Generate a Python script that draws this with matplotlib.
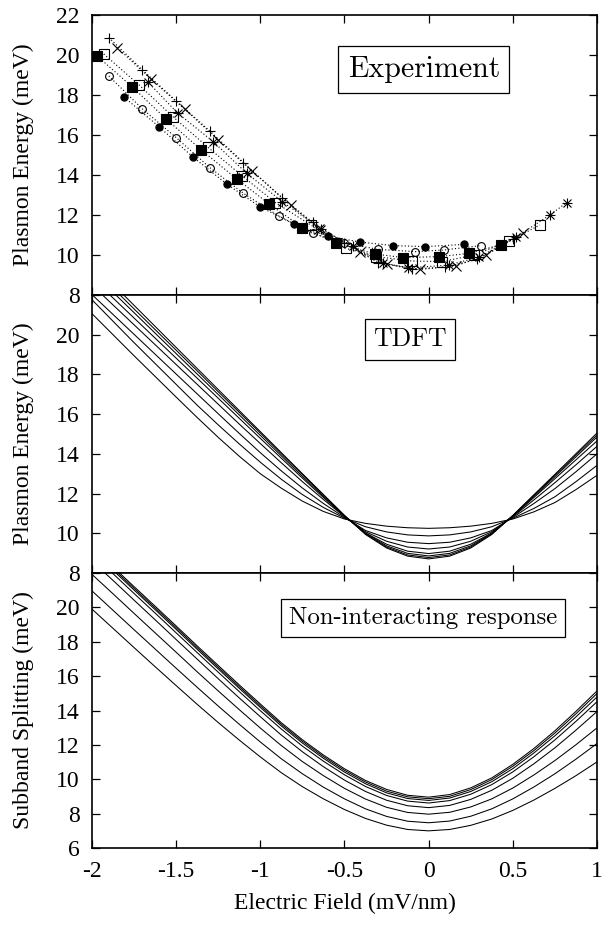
import matplotlib
matplotlib.use('Agg')
import matplotlib.pyplot as plt
from matplotlib.ticker import FixedLocator, FixedFormatter

# ---------------- data ----------------
# Experiment (top panel): seven measurement series (x = field, y = energy)
plus_x = [-1.90, -1.70, -1.50, -1.30, -1.10, -0.87, -0.69, -0.50, -0.30, -0.10, 0.10, 0.29, 0.50]
plus_y = [20.87, 19.25, 17.70, 16.20, 14.62, 12.84, 11.65, 10.60, 9.62, 9.30, 9.40, 9.78, 10.80]

cross_x = [-1.85, -1.65, -1.45, -1.25, -1.05, -0.82, -0.65, -0.41, -0.25, -0.05, 0.16, 0.34, 0.56]
cross_y = [20.37, 18.80, 17.30, 15.75, 14.20, 12.50, 11.28, 10.13, 9.55, 9.28, 9.45, 10.00, 11.08]

star_x = [-1.67, -1.49, -1.28, -1.08, -0.87, -0.64, -0.45, -0.27, -0.12, 0.12, 0.30, 0.52, 0.72, 0.82]
star_y = [18.67, 17.08, 15.67, 14.08, 12.67, 11.30, 10.45, 9.60, 9.35, 9.50, 9.90, 10.90, 12.00, 12.62]

osq_x = [-1.93, -1.72, -1.52, -1.31, -1.11, -0.91, -0.70, -0.49, -0.31, -0.10, 0.08, 0.27, 0.48, 0.66]
osq_y = [20.05, 18.50, 16.92, 15.38, 13.97, 12.62, 11.50, 10.33, 9.92, 9.70, 9.67, 10.00, 10.70, 11.50]

fsq_x = [-1.97, -1.76, -1.56, -1.35, -1.14, -0.95, -0.75, -0.55, -0.32, -0.15, 0.06, 0.24, 0.43]
fsq_y = [19.95, 18.40, 16.80, 15.25, 13.80, 12.57, 11.37, 10.60, 10.05, 9.87, 9.92, 10.08, 10.52]

ocir_x = [-1.90, -1.70, -1.50, -1.30, -1.10, -0.89, -0.69, -0.50, -0.30, -0.08, 0.09, 0.31]
ocir_y = [18.95, 17.30, 15.87, 14.37, 13.08, 11.95, 11.08, 10.60, 10.28, 10.17, 10.25, 10.47]

fcir_x = [-1.81, -1.60, -1.40, -1.20, -1.00, -0.80, -0.60, -0.41, -0.21, -0.02, 0.21]
fcir_y = [17.90, 16.40, 14.90, 13.55, 12.40, 11.55, 10.95, 10.65, 10.47, 10.42, 10.53]

# common field grid for the theory curves
field = [-2.0, -1.875, -1.75, -1.625, -1.5, -1.375, -1.25, -1.125, -1.0, -0.875, -0.75,
         -0.625, -0.5, -0.375, -0.25, -0.125, 0.0, 0.125, 0.25, 0.375, 0.5, 0.625, 0.75,
         0.875, 1.0]

# TDFT (middle panel)
tdft_1 = [21.06, 20.00, 18.94, 17.90, 16.86, 15.83, 14.83, 13.88, 13.00, 12.27, 11.62, 11.10, 10.72,
          10.50, 10.36, 10.28, 10.25, 10.28, 10.36, 10.50, 10.72, 11.08, 11.55, 12.20, 12.92]
tdft_2 = [21.76, 20.68, 19.60, 18.55, 17.50, 16.45, 15.46, 14.50, 13.58, 12.72, 11.95, 11.30, 10.76,
          10.33, 10.07, 9.92, 9.87, 9.92, 10.07, 10.33, 10.76, 11.25, 11.84, 12.60, 13.42]
tdft_3 = [22.02, 21.02, 20.02, 19.02, 18.02, 17.02, 16.02, 15.03, 14.06, 13.14, 12.28, 11.50, 10.80,
          10.14, 9.77, 9.55, 9.48, 9.55, 9.77, 10.14, 10.80, 11.50, 12.25, 13.10, 14.00]
tdft_4 = [22.50, 21.50, 20.50, 19.50, 18.50, 17.50, 16.50, 15.50, 14.52, 13.55, 12.60, 11.70, 10.84,
          10.08, 9.60, 9.31, 9.21, 9.31, 9.60, 10.08, 10.84, 11.68, 12.55, 13.45, 14.38]
tdft_5 = [22.86, 21.85, 20.84, 19.83, 18.82, 17.81, 16.80, 15.79, 14.78, 13.78, 12.78, 11.80, 10.86,
          10.02, 9.45, 9.10, 8.98, 9.10, 9.45, 10.02, 10.86, 11.80, 12.75, 13.70, 14.65]
tdft_6 = [23.17, 22.14, 21.11, 20.08, 19.05, 18.02, 16.99, 15.96, 14.93, 13.90, 12.87, 11.86, 10.88,
          10.00, 9.37, 8.99, 8.86, 8.99, 9.37, 10.00, 10.88, 11.86, 12.85, 13.85, 14.85]
tdft_7 = [23.40, 22.35, 21.30, 20.26, 19.22, 18.18, 17.13, 16.09, 15.05, 14.00, 12.96, 11.93, 10.89,
          9.97, 9.31, 8.91, 8.78, 8.91, 9.31, 9.97, 10.89, 11.91, 12.92, 13.94, 14.95]
tdft_8 = [23.60, 22.54, 21.48, 20.42, 19.36, 18.30, 17.24, 16.18, 15.12, 14.06, 13.00, 11.95, 10.90,
          9.94, 9.26, 8.85, 8.71, 8.85, 9.26, 9.94, 10.90, 11.94, 12.97, 14.01, 15.05]

# Non-interacting subband splitting (bottom panel)
nonint_1 = [19.90, 18.78, 17.66, 16.55, 15.45, 14.36, 13.30, 12.28, 11.30, 10.38, 9.57, 8.86, 8.24,
            7.72, 7.33, 7.08, 7.00, 7.08, 7.32, 7.69, 8.19, 8.79, 9.47, 10.21, 11.01]
nonint_2 = [20.96, 19.83, 18.70, 17.58, 16.46, 15.35, 14.26, 13.20, 12.17, 11.19, 10.32, 9.54, 8.86,
            8.28, 7.84, 7.56, 7.47, 7.57, 7.85, 8.28, 8.86, 9.55, 10.32, 11.17, 12.08]
nonint_3 = [21.92, 20.79, 19.65, 18.52, 17.39, 16.25, 15.14, 14.05, 12.98, 11.96, 11.03, 10.21, 9.47,
            8.85, 8.37, 8.07, 7.97, 8.08, 8.39, 8.86, 9.49, 10.25, 11.09, 12.01, 12.99]
nonint_4 = [22.70, 21.57, 20.42, 19.28, 18.13, 16.99, 15.85, 14.73, 13.64, 12.57, 11.60, 10.73, 9.95,
            9.29, 8.78, 8.46, 8.35, 8.48, 8.83, 9.36, 10.06, 10.90, 11.83, 12.86, 13.94]
nonint_5 = [23.10, 21.96, 20.81, 19.67, 18.52, 17.37, 16.23, 15.10, 13.99, 12.92, 11.93, 11.05, 10.26,
            9.58, 9.06, 8.73, 8.62, 8.76, 9.13, 9.69, 10.43, 11.31, 12.29, 13.37, 14.51]
nonint_6 = [23.30, 22.16, 21.01, 19.87, 18.72, 17.56, 16.42, 15.29, 14.18, 13.10, 12.11, 11.22, 10.42,
            9.74, 9.21, 8.88, 8.77, 8.91, 9.29, 9.86, 10.62, 11.53, 12.53, 13.63, 14.79]
nonint_7 = [23.40, 22.26, 21.11, 19.97, 18.82, 17.66, 16.52, 15.39, 14.28, 13.20, 12.21, 11.32, 10.52,
            9.84, 9.31, 8.98, 8.87, 9.01, 9.40, 9.98, 10.76, 11.67, 12.69, 13.81, 14.99]
nonint_8 = [23.50, 22.36, 21.21, 20.07, 18.92, 17.76, 16.62, 15.49, 14.38, 13.29, 12.30, 11.41, 10.61,
            9.93, 9.41, 9.07, 8.96, 9.11, 9.50, 10.08, 10.87, 11.79, 12.82, 13.95, 15.14]

# ticks / labels
xticks = [-2, -1.5, -1, -0.5, 0, 0.5, 1]
xtick_labels = ['-2', '-1.5', '-1', '-0.5', '0', '0.5', '1']
yticks_top = [8, 10, 12, 14, 16, 18, 20, 22]
ytick_labels_top = ['8', '10', '12', '14', '16', '18', '20', '22']
yticks_mid = [8, 10, 12, 14, 16, 18, 20, 22]
ytick_labels_mid = ['8', '10', '12', '14', '16', '18', '20', '']
yticks_bot = [6, 8, 10, 12, 14, 16, 18, 20, 22]
ytick_labels_bot = ['6', '8', '10', '12', '14', '16', '18', '20', '']

panel_titles = ['Experiment', 'TDFT', 'Non-interacting response']
ylabels = ['Plasmon Energy (meV)', 'Plasmon Energy (meV)', 'Subband Splitting (meV)']
xlabel = 'Electric Field (mV/nm)'

# ---------------- figure ----------------
plt.rcParams['font.family'] = ['Liberation Serif', 'DejaVu Serif']
plt.rcParams['axes.unicode_minus'] = False
plt.rcParams['font.size'] = 17

fig = plt.figure(figsize=(6.08, 9.26), dpi=100)
gs = fig.add_gridspec(3, 1, left=0.1513, right=0.9819, top=0.9838, bottom=0.0842,
                      hspace=0, height_ratios=[280, 278, 275])
axes = [fig.add_subplot(gs[i]) for i in range(3)]

dot = (0, (1.0, 2.0))
ax = axes[0]
common = dict(color='k', ls=dot, lw=0.8, mec='k', mew=0.8)
ax.plot(plus_x, plus_y, marker='+', ms=7, **common)
ax.plot(cross_x, cross_y, marker='x', ms=6.8, **common)
ax.plot(star_x, star_y, marker='+', ms=7, **common)
ax.plot(star_x, star_y, ls='none', marker='x', ms=6.3, mec='k', mew=0.8)
ax.plot(osq_x, osq_y, marker='s', ms=6.6, mfc='none', **common)
ax.plot(fsq_x, fsq_y, marker='s', ms=6.6, mfc='k', **common)
ax.plot(ocir_x, ocir_y, marker='o', ms=5.6, mfc='none', **common)
ax.plot(fcir_x, fcir_y, marker='o', ms=5.2, mfc='k', **common)

for curve in [tdft_1, tdft_2, tdft_3, tdft_4, tdft_5, tdft_6, tdft_7, tdft_8]:
    axes[1].plot(field, curve, color='k', lw=0.75)
for curve in [nonint_1, nonint_2, nonint_3, nonint_4, nonint_5, nonint_6, nonint_7, nonint_8]:
    axes[2].plot(field, curve, color='k', lw=0.75)

ylims = [(8, 22), (8, 22), (6, 22)]
yt = [(yticks_top, ytick_labels_top), (yticks_mid, ytick_labels_mid), (yticks_bot, ytick_labels_bot)]
box_pos = [(0.657, 0.806), (0.630, 0.840), (0.656, 0.835)]
box_size = [21.5, 18.5, 17.8]

for i, ax in enumerate(axes):
    ax.set_xlim(-2, 1)
    ax.set_ylim(*ylims[i])
    ax.xaxis.set_major_locator(FixedLocator(xticks))
    ax.xaxis.set_major_formatter(FixedFormatter(xtick_labels))
    ax.yaxis.set_major_locator(FixedLocator(yt[i][0]))
    ax.yaxis.set_major_formatter(FixedFormatter(yt[i][1]))
    ax.tick_params(direction='in', top=True, right=True, length=6, width=0.9,
                   pad=9, labelsize=17)
    for s in ax.spines.values():
        s.set_linewidth(1.2)
    if i < 2:
        ax.tick_params(labelbottom=False)
    ax.set_ylabel(ylabels[i], fontsize=17)
    ax.yaxis.set_label_coords(-0.115, 0.5)
    ax.text(box_pos[i][0], box_pos[i][1], panel_titles[i], transform=ax.transAxes,
            ha='center', va='center', fontsize=box_size[i], family=['cmr10', 'DejaVu Serif'],
            bbox=dict(boxstyle='square,pad=0.32', fc='white', ec='k', lw=0.9), zorder=5)

axes[2].set_xlabel(xlabel, fontsize=17, labelpad=8)

fig.savefig('out.png', dpi=100)
